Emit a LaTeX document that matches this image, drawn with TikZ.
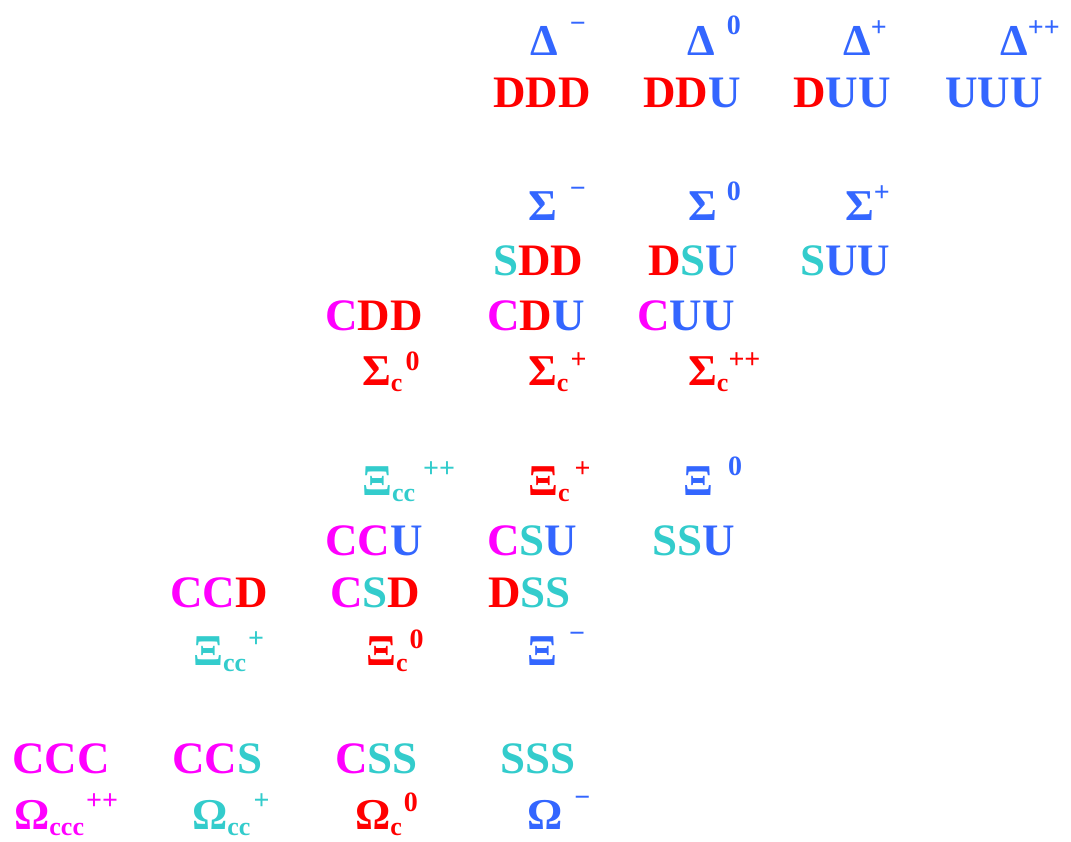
\documentclass[tikz,border=0pt]{standalone}
\usepackage{fontspec}
\setmainfont{Liberation Serif}
\definecolor{qu}{HTML}{3366FF}
\definecolor{qd}{HTML}{FF0000}
\definecolor{qs}{HTML}{33CCCC}
\definecolor{qc}{HTML}{FF00FF}
\newcommand{\qU}{\textcolor{qu}{U}}
\newcommand{\qD}{\textcolor{qd}{D}}
\newcommand{\qS}{\textcolor{qs}{S}}
\newcommand{\qC}{\textcolor{qc}{C}}
\newcommand{\mn}{\raisebox{3pt}{−}}
\newcommand{\hadr}[5]{{\fontsize{44}{44}\selectfont\bfseries #1}{\fontsize{26}{26}\selectfont\bfseries\raisebox{-6pt}{#2}}\hspace{#3}\raisebox{#5}{\fontsize{28}{28}\selectfont\bfseries #4}}
\tikzset{
  quark/.style={anchor=base west, inner sep=0pt, font=\fontsize{45}{45}\selectfont\bfseries},
  hadron/.style={anchor=base west, inner sep=0pt, text=#1},
}
\begin{document}
\begin{tikzpicture}[x=1pt,y=-1pt]
\useasboundingbox[fill=white] (0,0) rectangle (1071,841);
% Delta row
\node[hadron=qu] (dm) at (530,55) {\hadr{Δ}{}{12pt}{\mn}{20pt}};
\node[hadron=qu] (d0) at (687,55) {\hadr{Δ}{}{12pt}{0}{21pt}};
\node[hadron=qu] (dp) at (843,55) {\hadr{Δ}{}{0pt}{+}{19pt}};
\node[hadron=qu] (dpp) at (1000,55) {\hadr{Δ}{}{0pt}{++}{19pt}};
\node[quark] (ddd) at (493,107) {\qD\qD\qD};
\node[quark] (ddu) at (643,107) {\qD\qD\qU};
\node[quark] (duu) at (793,107) {\qD\qU\qU};
\node[quark] (uuu) at (945,107) {\qU\qU\qU};
% Sigma row
\node[hadron=qu] (sm) at (528,220) {\hadr{Σ}{}{13pt}{\mn}{20pt}};
\node[hadron=qu] (s0) at (688,220) {\hadr{Σ}{}{10pt}{0}{20pt}};
\node[hadron=qu] (sp) at (845,220) {\hadr{Σ}{}{0pt}{+}{19pt}};
\node[quark] (sdd) at (493,275) {\qS\qD\qD};
\node[quark] (dsu) at (648,275) {\qD\qS\qU};
\node[quark] (suu) at (800,275) {\qS\qU\qU};
\node[quark] (cdd) at (325,330) {\qC\qD\qD};
\node[quark] (cdu) at (487,330) {\qC\qD\qU};
\node[quark] (cuu) at (637,330) {\qC\qU\qU};
\node[hadron=qd] (sc0) at (362,385) {\hadr{Σ}{c}{3pt}{0}{15pt}};
\node[hadron=qd] (scp) at (528,385) {\hadr{Σ}{c}{2pt}{+}{17pt}};
\node[hadron=qd] (scpp) at (688,385) {\hadr{Σ}{c}{0pt}{++}{17pt}};
% Xi rows
\node[hadron=qs] (xccpp) at (362,495) {\hadr{Ξ}{cc}{8pt}{++}{18pt}};
\node[hadron=qd] (xcp) at (528,495) {\hadr{Ξ}{c}{5pt}{+}{18pt}};
\node[hadron=qu] (x0) at (683,495) {\hadr{Ξ}{}{15pt}{0}{20pt}};
\node[quark] (ccu) at (325,555) {\qC\qC\qU};
\node[quark] (csu) at (487,555) {\qC\qS\qU};
\node[quark] (ssu) at (652,555) {\qS\qS\qU};
\node[quark] (ccd) at (170,607) {\qC\qC\qD};
\node[quark] (csd) at (330,607) {\qC\qS\qD};
\node[quark] (dss) at (488,607) {\qD\qS\qS};
\node[hadron=qs] (xccp) at (193,665) {\hadr{Ξ}{cc}{2pt}{+}{18pt}};
\node[hadron=qd] (xc0) at (366,665) {\hadr{Ξ}{c}{2pt}{0}{17pt}};
\node[hadron=qu] (xm) at (527,665) {\hadr{Ξ}{}{12pt}{\mn}{20pt}};
% Omega rows
\node[quark] (ccc) at (12,773) {\qC\qC\qC};
\node[quark] (ccs) at (172,773) {\qC\qC\qS};
\node[quark] (css) at (335,773) {\qC\qS\qS};
\node[quark] (sss) at (500,773) {\qS\qS\qS};
\node[hadron=qc] (occcpp) at (14,829) {\hadr{Ω}{ccc}{2pt}{++}{20pt}};
\node[hadron=qs] (occp) at (192,829) {\hadr{Ω}{cc}{3pt}{+}{20pt}};
\node[hadron=qd] (oc0) at (355,829) {\hadr{Ω}{c}{2pt}{0}{18pt}};
\node[hadron=qu] (om) at (527,829) {\hadr{Ω}{}{12pt}{\mn}{20pt}};
\end{tikzpicture}
\end{document}
